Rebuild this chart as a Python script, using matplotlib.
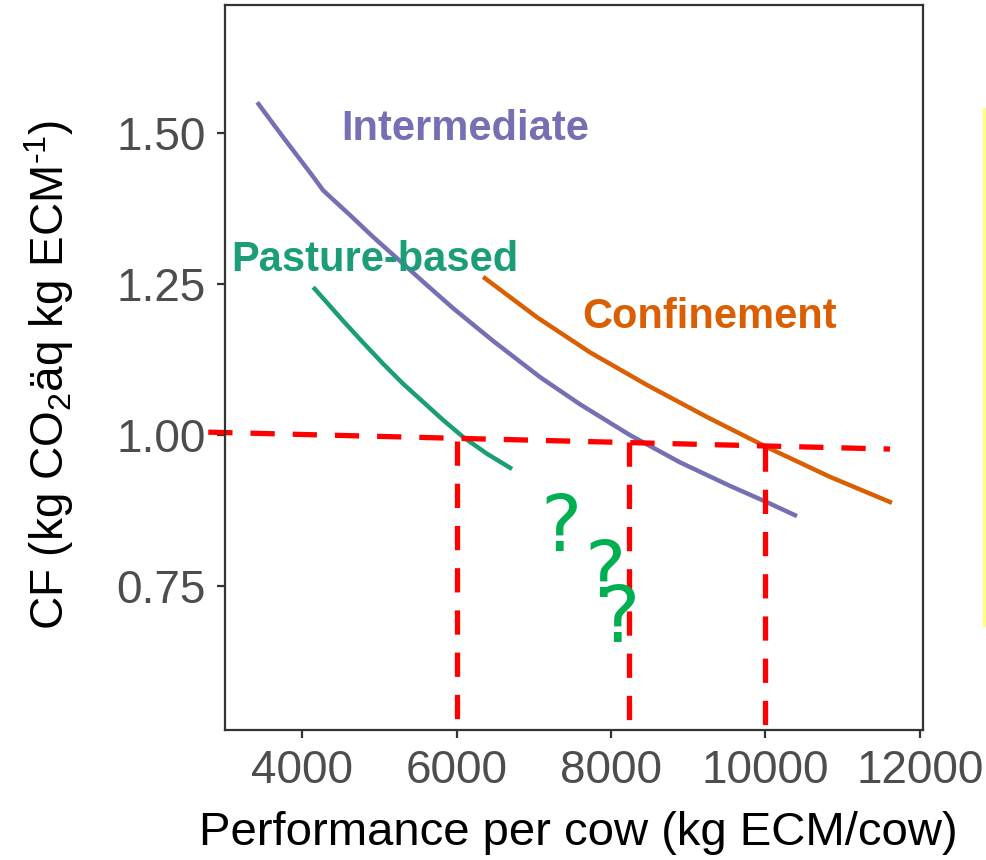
import matplotlib
matplotlib.use("Agg")
import matplotlib.pyplot as plt
from matplotlib.lines import Line2D

plt.rcParams['font.family'] = ['Liberation Sans', 'DejaVu Sans']
plt.rcParams['mathtext.fontset'] = 'custom'
plt.rcParams['mathtext.rm'] = 'Liberation Sans'
plt.rcParams['mathtext.it'] = 'Liberation Sans:italic'
plt.rcParams['mathtext.bf'] = 'Liberation Sans:bold'

# ---- data ----
intermediate_x = [3417, 3754, 4129, 4272, 4621, 4919, 5269, 5618, 5955, 6472,
                  7081, 7599, 8246, 8893, 9541, 10019, 10408]
intermediate_y = [1.551, 1.493, 1.430, 1.405, 1.364, 1.328, 1.288, 1.248, 1.210,
                  1.156, 1.096, 1.051, 1.000, 0.955, 0.916, 0.889, 0.866]

pasture_x = [4142, 4337, 4531, 4790, 5049, 5307, 5566, 5825, 6084, 6395, 6718]
pasture_y = [1.245, 1.217, 1.189, 1.153, 1.118, 1.085, 1.055, 1.025, 0.997,
             0.969, 0.944]

confinement_x = [6343, 7042, 7728, 8466, 9243, 10019, 10835, 11638]
confinement_y = [1.262, 1.195, 1.137, 1.083, 1.030, 0.980, 0.931, 0.888]

threshold_x = [2783, 11612]
threshold_y = [1.005, 0.977]

vertical_x = [6000, 8230, 10000]
vertical_top = [0.990, 0.988, 0.980]
vertical_bottom = [0.525, 0.527, 0.512]

x_ticks = [4000, 6000, 8000, 10000, 12000]
y_ticks = [0.75, 1.00, 1.25, 1.50]
y_tick_labels = ['0.75', '1.00', '1.25', '1.50']

labels = ['Intermediate', 'Pasture-based', 'Confinement']
label_x = [6110, 4945, 9282]
label_y = [1.488, 1.272, 1.177]

question_x = [7353, 7922, 8104]
question_y = [0.808, 0.732, 0.657]

# ---- colours ----
c_int = '#7570B3'
c_pas = '#1B9E77'
c_con = '#D95F02'
c_red = '#FF0000'
c_q = '#00B050'

fig = plt.figure(figsize=(9.87, 8.60), dpi=100)
ax = fig.add_axes([225/987, 1-730/860, (923-225)/987, (730-5)/860])

lw = 3.2
for xs, ys, col in [(intermediate_x, intermediate_y, c_int),
                    (pasture_x, pasture_y, c_pas),
                    (confinement_x, confinement_y, c_con)]:
    ax.plot(xs, ys, color=col, lw=lw, solid_capstyle='butt', solid_joinstyle='round')

dlw = 3.8
dash = (4.6, 3.4)
ax.plot(threshold_x, threshold_y, color=c_red, lw=dlw, dashes=dash, clip_on=False)
for vx, vt, vb in zip(vertical_x, vertical_top, vertical_bottom):
    ax.plot([vx, vx], [vt, vb], color=c_red, lw=dlw, dashes=dash, clip_on=False)

for txt, tx, ty, col in zip(labels, label_x, label_y, [c_int, c_pas, c_con]):
    ax.text(tx, ty, txt, color=col, fontsize=30, fontweight='bold',
            ha='center', va='baseline')

for qx, qy in zip(question_x, question_y):
    ax.text(qx, qy, '?', color=c_q, fontsize=56, family='DejaVu Sans',
            ha='center', va='baseline')

ax.set_xlim(3000, 12040)
ax.set_ylim(0.512, 1.712)
ax.set_xticks(x_ticks)
ax.set_xticklabels([str(v) for v in x_ticks])
ax.set_yticks(y_ticks)
ax.set_yticklabels(y_tick_labels)

for s in ax.spines.values():
    s.set_color('#333333')
    s.set_linewidth(1.6)
ax.tick_params(axis='both', colors='#333333', length=6, width=1.6,
               labelsize=33, labelcolor='#4D4D4D', pad=8)

ax.set_xlabel('Performance per cow (kg ECM/cow)', fontsize=34, color='black')
ax.set_ylabel(r'CF (kg CO$_2$äq kg ECM$^{\text{-1}}$)', fontsize=33, color='black')
ax.xaxis.set_label_coords(0.506, -0.112)
ax.yaxis.set_label_coords(-0.214, 0.49)

fig.add_artist(Line2D([985/987, 985/987], [1-110/860, 1-625/860],
                      color='#FFFF80', lw=3, transform=fig.transFigure))

fig.savefig('out.png', dpi=100, facecolor='white')
